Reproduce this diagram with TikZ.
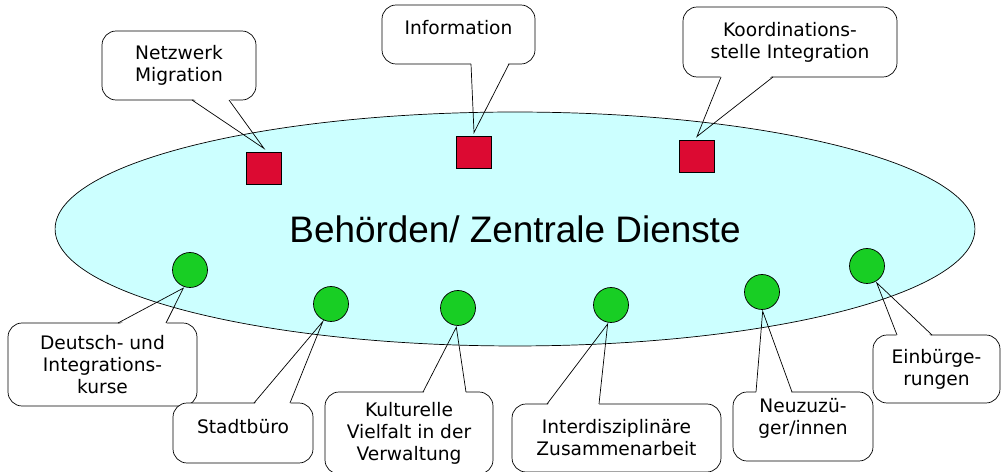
\documentclass[tikz,border=0pt]{standalone}
\usepackage{fontspec}
\setmainfont{DejaVu Sans}
\newfontfamily\titlefont{Liberation Sans}
\usetikzlibrary{calc,shapes.geometric}
\definecolor{amtcyan}{HTML}{CCFFFF}
\definecolor{sqred}{HTML}{DC0A32}
\definecolor{dotgreen}{HTML}{18CE24}
\pgfdeclarelayer{bubbles}
\pgfdeclarelayer{tails}
\pgfsetlayers{bubbles,main,tails}

\begin{document}
\begin{tikzpicture}[x=0.02cm, y=-0.02cm,
    line width=1pt,
    amt/.style={ellipse, draw, fill=amtcyan, minimum width=18.4cm, minimum height=4.68cm, inner sep=0pt,
      font=\titlefont\fontsize{21}{25}\selectfont},
    sq/.style={draw, fill=sqred, minimum width=0.7cm, minimum height=0.64cm, inner sep=0pt, outer sep=2pt},
    dot/.style={circle, draw, fill=dotgreen, minimum size=0.7cm, inner sep=0pt, outer sep=1pt},
    bubble/.style={draw, fill=white, rounded corners=8pt, align=center, inner sep=0pt, outer sep=0pt,
      font=\fontsize{10.6}{12.5}\selectfont}]
  \useasboundingbox (0,0) rectangle (1001,472);

  \begin{pgfonlayer}{bubbles}
  \node[bubble, minimum width=3.08cm, minimum height=1.38cm] (netz) at (179,65.5) {Netzwerk\\Migration};
  \node[bubble, minimum width=3.06cm, minimum height=1.18cm, text depth=8pt] (info) at (458.5,34.5) {Information};
  \node[bubble, minimum width=4.28cm, minimum height=1.40cm] (koord) at (790,42) {Koordinations-\\stelle Integration};
  \node[bubble, minimum width=3.78cm, minimum height=1.66cm] (kurs) at (102.5,364.5) {Deutsch- und\\Integrations-\\kurse};
  \node[bubble, minimum width=2.80cm, minimum height=1.20cm, text depth=8pt] (stadt) at (243,433) {Stadtbüro};
  \node[bubble, minimum width=3.36cm, minimum height=1.64cm] (kultur) at (409,433) {Kulturelle\\Vielfalt in der\\Verwaltung};
  \node[bubble, minimum width=4.18cm, minimum height=1.36cm] (inter) at (616.5,438) {Interdisziplinäre\\Zusammenarbeit};
  \node[bubble, minimum width=2.80cm, minimum height=1.38cm, text depth=11.5pt] (neu) at (803,426.5) {Neuzuzü-\\ger/innen};
  \node[bubble, minimum width=2.54cm, minimum height=1.36cm] (einb) at (936.5,369) {Einbürge-\\rungen};
  \end{pgfonlayer}

  \node[amt] (dienste) at (515,229) {Behörden/ Zentrale Dienste};

  \node[sq] (sqnetz) at (264,168) {};
  \node[sq] (sqinfo) at (474,152) {};
  \node[sq] (sqkoord) at (697,156) {};

  \node[dot] (dkurs) at (190,270) {};
  \node[dot] (dstadt) at (331,304) {};
  \node[dot] (dkultur) at (458,308) {};
  \node[dot] (dinter) at (611,305) {};
  \node[dot] (dneu) at (762,292) {};
  \node[dot] (deinb) at (867,266) {};

  % callout tails: box / side / base offsets / inward shift / tip
  \foreach \b/\s/\u/\v/\d/\t in {netz/south/13/50/-2/sqnetz.north,
      info/south/12.5/50.5/-2/sqinfo.north,
      koord/south/-69/-17/-2/sqkoord.north,
      kurs/north/15.5/63.5/2/dkurs.250,
      stadt/north/11/47/2/dstadt.245,
      kultur/north/14/57/2/dkultur.265,
      inter/north/-69.5/-17.5/2/dinter.260,
      neu/north/-47/-11/2/dneu.272,
      einb/north/-39.5/-4.5/2/deinb.300}{
    \begin{pgfonlayer}{bubbles}
      \fill[white] ($(\b.\s)+(\u,\d)$) -- (\t) -- ($(\b.\s)+(\v,\d)$) -- cycle;
    \end{pgfonlayer}
    \begin{pgfonlayer}{tails}
      \draw[line join=miter] ($(\b.\s)+(\u,0)$) -- (\t) -- ($(\b.\s)+(\v,0)$);
    \end{pgfonlayer}
  }
\end{tikzpicture}
\end{document}
